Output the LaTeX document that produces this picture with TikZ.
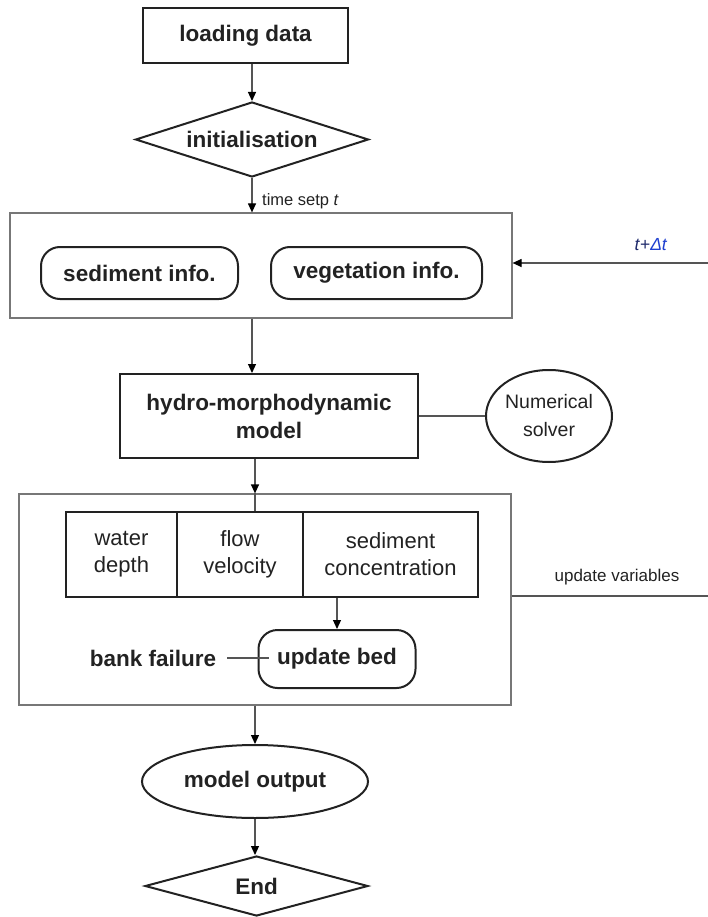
\documentclass[tikz,border=0pt]{standalone}
\usepackage{fontspec}
\setmainfont{Liberation Sans}
\usetikzlibrary{shapes.geometric,arrows.meta}
\definecolor{ink}{HTML}{222222}
\definecolor{wire}{HTML}{555555}
\definecolor{navyt}{HTML}{1F2A6B}
\definecolor{bluet}{HTML}{1E3FD0}
\tikzset{
  every node/.style={text=ink},
  boldtxt/.style={font=\fontsize{22.5}{28}\selectfont\bfseries},
  regtxt/.style={font=\fontsize{22}{27}\selectfont},
  mainbox/.style={draw=ink, line width=2pt, rectangle, inner sep=0pt, boldtxt, align=center},
  roundbox/.style={draw=ink, line width=2pt, rectangle, rounded corners=19pt, inner sep=0pt, boldtxt, align=center},
  frame/.style={draw=wire!80, line width=1.2pt, rectangle, inner sep=0pt},
  dia/.style={draw=ink, line width=2pt, diamond, inner sep=0pt, boldtxt},
  ell/.style={draw=ink, line width=2pt, ellipse, inner sep=0pt, align=center},
  cell/.style={draw=ink, line width=2pt, rectangle, inner sep=0pt, regtxt, align=center},
  wireline/.style={draw=wire, line width=1.2pt},
  arr/.style={wireline, -{Triangle[length=9pt,width=8pt,color=black]}},
}
\begin{document}
\begin{tikzpicture}[x=1pt,y=-1pt]
\useasboundingbox (0,0) rectangle (708,917);
% top
\node[mainbox, minimum width=205, minimum height=55] (ld) at (245.5,35.5) {loading data};
\node[dia, minimum width=233, minimum height=75] (init) at (252,139.5) {\makebox[0pt]{initialisation}};
% container 1
\node[frame, minimum width=502, minimum height=105] (c1) at (261,265.5) {};
\node[roundbox, minimum width=197, minimum height=52] (sed) at (139.5,273) {sediment info.};
\node[roundbox, minimum width=211, minimum height=52] (veg) at (376.5,273) {vegetation info.};
\node[anchor=west, font=\fontsize{16.5}{20}\selectfont, inner sep=0pt] (ts) at (262,201) {time setp \textit{t}};
\coordinate (tin) at (708,263);
\node[font=\fontsize{17.5}{20}\selectfont, inner sep=0pt] (tdt) at (651,245) {\textcolor{navyt}{\textit{t}+}\textcolor{bluet}{\textit{Δt}}};
% hydro
\node[mainbox, minimum width=298, minimum height=84] (hm) at (269,416) {hydro-morphodynamic\\model};
\node[ell, minimum width=126, minimum height=92, font=\fontsize{19.5}{28}\selectfont] (ns) at (549,416) {Numerical\\solver};
% container 2
\node[frame, minimum width=492, minimum height=211] (c2) at (265,599.5) {};
\node[cell, minimum width=111, minimum height=85] (wd) at (121.5,554.5) {water\\depth};
\node[cell, minimum width=126, minimum height=85] (fv) at (240,554.5) {flow\\velocity};
\node[cell, minimum width=175, minimum height=85] (sc) at (390.5,554.5) {sediment\\concentration};
\node[roundbox, minimum width=157, minimum height=58] (ub) at (337,659) {update bed};
\node[boldtxt, inner sep=0pt] (bf) at (153,658) {bank failure};
\node[font=\fontsize{17}{20}\selectfont, inner sep=0pt] (uv) at (617,577) {update variables};
\coordinate (uvc) at (708,596);
% bottom
\node[ell, minimum width=226, minimum height=73, boldtxt] (mo) at (255,781.5) {model output};
\node[dia, minimum width=223, minimum height=60] (en) at (256.5,886) {\makebox[0pt]{End}};
% connectors
\draw[arr] (ld.south -| init.north) -- (init.north);
\draw[arr] (init.south) -- (init.south |- c1.north);
\draw[arr] (tin) -- (tin -| c1.east);
\draw[arr] (c1.south -| init.south) -- (init.south |- hm.north);
\draw[wireline] (hm.east) -- (ns.west);
\draw[arr] ([xshift=3pt]init.south |- hm.south) -- ([xshift=3pt]init.south |- c2.north);
\draw[wireline] ([xshift=3pt]init.south |- c2.north) -- ([xshift=3pt]init.south |- wd.north);
\draw[arr] (ub.north |- sc.south) -- (ub.north);
\draw[wireline] ([xshift=11pt]bf.east) -- ([xshift=11pt]bf.east -| ub.west);
\draw[wireline] (c2.east |- uvc) -- (uvc);
\draw[arr] (mo.north |- c2.south) -- (mo.north);
\draw[arr] (mo.south) -- (mo.south |- en.north);
\end{tikzpicture}
\end{document}
